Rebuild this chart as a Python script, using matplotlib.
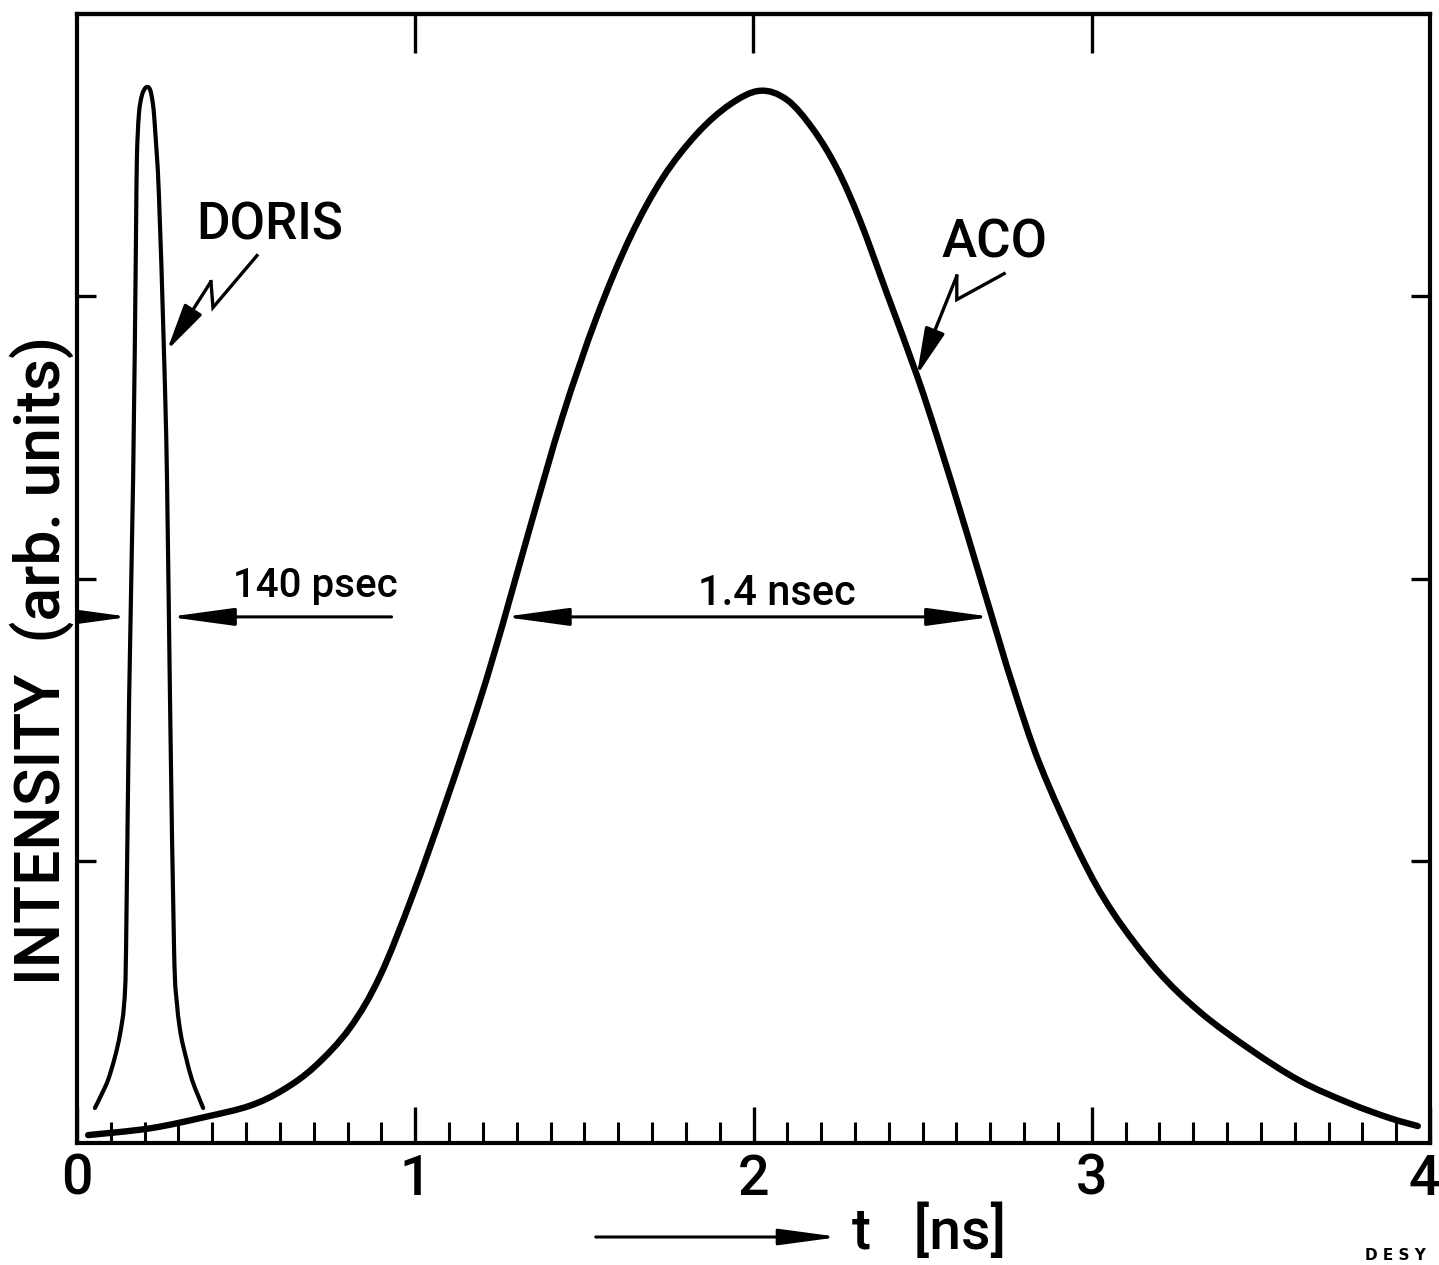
import matplotlib
matplotlib.use("Agg")
import numpy as np
import matplotlib.pyplot as plt
from matplotlib.patches import FancyArrowPatch, PathPatch
from matplotlib.path import Path
from matplotlib.transforms import ScaledTranslation

plt.rcParams['font.family'] = ['Roboto', 'DejaVu Sans']
plt.rcParams['font.weight'] = 'medium'

# ---- data ----
aco_t = [0.033, 0.216, 0.378, 0.511, 0.609, 0.704, 0.807, 0.896, 0.993, 1.094,
         1.191, 1.259, 1.339, 1.437, 1.537, 1.635, 1.732, 1.833, 1.931, 2.019,
         2.099, 2.176, 2.247, 2.315, 2.395, 2.483, 2.551, 2.631, 2.705, 2.767,
         2.847, 2.965, 3.063, 3.193, 3.320, 3.468, 3.616, 3.764, 3.882, 3.964]
aco_i = [0.007, 0.013, 0.023, 0.033, 0.047, 0.068, 0.102, 0.148, 0.220, 0.305,
         0.392, 0.460, 0.545, 0.645, 0.732, 0.802, 0.855, 0.894, 0.920, 0.932,
         0.924, 0.898, 0.863, 0.817, 0.752, 0.680, 0.618, 0.540, 0.466, 0.405,
         0.335, 0.256, 0.204, 0.153, 0.116, 0.083, 0.055, 0.035, 0.022, 0.015]

doris_t = [0.053, 0.071, 0.092, 0.112, 0.127, 0.139, 0.145, 0.154, 0.166, 0.174,
           0.177, 0.183, 0.192, 0.204, 0.216, 0.225, 0.231, 0.242, 0.257, 0.266,
           0.275, 0.287, 0.296, 0.307, 0.322, 0.340, 0.358, 0.373]
doris_i = [0.031, 0.042, 0.056, 0.076, 0.096, 0.122, 0.171, 0.392, 0.590, 0.791,
           0.871, 0.911, 0.928, 0.935, 0.933, 0.919, 0.897, 0.841, 0.702, 0.590,
           0.392, 0.171, 0.122, 0.096, 0.076, 0.056, 0.042, 0.031]

x_major = [0, 1, 2, 3, 4]
x_major_labels = ['0', '1', '2', '3', '4']
x_minor = [i / 10 for i in range(1, 40) if i % 10 != 0]
top_ticks = [1, 2, 3]
y_ticks = [0.25, 0.5, 0.75]


def smooth_path(xs, ys):
    """Catmull-Rom spline through the given points, as Bezier path."""
    pts = np.column_stack([xs, ys]).astype(float)
    n = len(pts)
    verts = [pts[0]]
    codes = [Path.MOVETO]
    for i in range(n - 1):
        p0 = pts[i - 1] if i > 0 else pts[i]
        p1, p2 = pts[i], pts[i + 1]
        p3 = pts[i + 2] if i + 2 < n else pts[i + 1]
        verts += [p1 + (p2 - p0) / 6, p2 - (p3 - p1) / 6, p2]
        codes += [Path.CURVE4] * 3
    return Path(verts, codes)


fig = plt.figure(figsize=(14.39, 12.65), dpi=100)
ax = fig.add_axes([77 / 1439, (1265 - 1143) / 1265, (1430 - 77) / 1439, (1143 - 14) / 1265])
ax.set_xlim(0, 4)
ax.set_ylim(0, 1)

ax.add_patch(PathPatch(smooth_path(aco_t, aco_i), fill=False, lw=4.6, ec='black',
                       capstyle='round', joinstyle='round'))
ax.add_patch(PathPatch(smooth_path(doris_t, doris_i), fill=False, lw=3.0, ec='black',
                       capstyle='round', joinstyle='round'))

for s in ax.spines.values():
    s.set_linewidth(3.0)

# bottom ticks
ax.set_xticks(x_major)
ax.set_xticklabels(x_major_labels)
ax.set_xticks(x_minor, minor=True)
ax.tick_params(axis='x', which='major', direction='in', length=26, width=2.4,
               labelsize=40, pad=7, top=False)
ax.tick_params(axis='x', which='minor', direction='in', length=15, width=2.2, top=False)
lab4 = ax.get_xticklabels()[-1]
lab4.set_transform(lab4.get_transform() + ScaledTranslation(-6 / 100, 0, fig.dpi_scale_trans))
# left/right ticks
ax.set_yticks(y_ticks)
ax.set_yticklabels([])
ax.tick_params(axis='y', which='major', direction='in', length=14, width=2.4,
               left=True, right=True)

# top ticks via secondary axis
top = ax.secondary_xaxis('top')
top.set_xticks(top_ticks)
top.set_xticklabels([])
top.tick_params(direction='in', length=28, width=2.4)
top.spines['top'].set_linewidth(3.0)

# axis labels
fig.text(42 / 1439, 1 - 660 / 1265, 'INTENSITY  (arb. units)', rotation=90,
         ha='center', va='center', fontsize=45)

# t [ns] label with arrow
fig.patches.append(FancyArrowPatch((593, 28), (842, 28), transform=None,
                                   arrowstyle='-|>,head_length=2.6,head_width=0.35',
                                   mutation_scale=14, lw=2.2, color='black'))
fig.text(852 / 1439, 32 / 1265, 't   [ns]', ha='left', va='center', fontsize=41)

fig.text(1395 / 1439, 10 / 1265, 'D E S Y', ha='center', va='center',
         fontsize=11, fontweight='bold', family='DejaVu Sans')

# curve labels
ax.text(0.571, 0.813, 'DORIS', ha='center', va='center', fontsize=37)
ax.text(2.714, 0.797, 'ACO', ha='center', va='center', fontsize=38)


# lightning arrows
def lightning(p0, pa, pb, tip):
    ax.plot([p0[0], pa[0], pb[0]], [p0[1], pa[1], pb[1]], color='black', lw=2.4,
            solid_joinstyle='miter')
    ax.add_patch(FancyArrowPatch(pb, tip, arrowstyle='-|>,head_length=1.6,head_width=0.35',
                                 mutation_scale=18, lw=2.4, color='black',
                                 shrinkA=0, shrinkB=0))


lightning((0.532, 0.786), (0.402, 0.740), (0.396, 0.763), (0.266, 0.702))
lightning((2.741, 0.770), (2.601, 0.747), (2.601, 0.768), (2.483, 0.680))

# width markers
yw = 0.466


def arrow(x0, x1):
    ax.add_patch(FancyArrowPatch((x0, yw), (x1, yw),
                                 arrowstyle='-|>,head_length=2.2,head_width=0.3',
                                 mutation_scale=18, lw=2.2, color='black',
                                 shrinkA=0, shrinkB=0))


arrow(0.008, 0.155)
arrow(0.930, 0.272)
ax.text(0.704, 0.493, '140 psec', ha='center', va='center', fontsize=29)

ax.add_patch(FancyArrowPatch((1.262, yw), (2.705, yw),
                             arrowstyle='<|-|>,head_length=2.2,head_width=0.3',
                             mutation_scale=18, lw=2.2, color='black',
                             shrinkA=0, shrinkB=0))
ax.text(2.07, 0.487, '1.4 nsec', ha='center', va='center', fontsize=30)

fig.savefig('out.png', dpi=100)
